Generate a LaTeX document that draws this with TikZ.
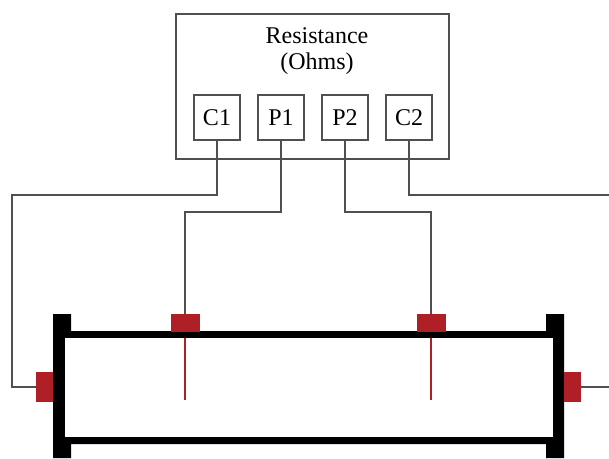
\documentclass[tikz,border=0pt]{standalone}
\usepackage{fontspec}
\setmainfont{Liberation Serif}
\definecolor{clampred}{HTML}{AE1F26}
\definecolor{wiregray}{HTML}{505050}
\tikzset{
  termbox/.style={draw=wiregray,line width=2pt,minimum width=46pt,minimum height=45pt,inner sep=0pt,font=\fontsize{24}{24}\selectfont},
  clamp/.style={fill=clampred,inner sep=0pt},
  wire/.style={draw=wiregray,line width=2pt},
  sensewire/.style={color=clampred,line width=1.5pt}
}
\begin{document}
\begin{tikzpicture}
  [x=1pt,y=-1pt]
  \useasboundingbox (0,0) rectangle (609,458);

  \node[draw=wiregray,line width=2pt,minimum width=273pt,minimum height=145pt,inner sep=0pt] (meter) at (312.5,86) {};
  \node[font=\fontsize{24}{24}\selectfont] (title) at (317,35.5) {Resistance};
  \node[font=\fontsize{24}{24}\selectfont] (unit) at (317,64) {(Ohms)};

  \node[termbox] (C1) at (217,117.5) {C1};
  \node[termbox] (P1) at (281,117.5) {P1};
  \node[termbox] (P2) at (345,117.5) {P2};
  \node[termbox] (C2) at (409,117.5) {C2};

  % pipe section
  \fill[black] (53,314) -- (71,314) -- (71,331) -- (546,331) -- (546,314) -- (564,314) -- (564,458) -- (546,458)
    -- (546,444) -- (71,444) -- (71,458) -- (53,458) -- cycle;
  \fill[white] (65,338) rectangle (553,437);

  % clamps
  \node[clamp,minimum width=17pt,minimum height=30pt] (clampL) at (44.5,387) {};
  \node[clamp,minimum width=17pt,minimum height=30pt] (clampR) at (572.5,387) {};
  \node[clamp,minimum width=29pt,minimum height=18pt] (clampA) at (185.5,323) {};
  \node[clamp,minimum width=29pt,minimum height=18pt] (clampB) at (431.5,323) {};

  \coordinate (cornerL) at (12,195);
  \coordinate (exitC) at (609,195);
  \coordinate (bendA) at (185,212);
  \coordinate (bendB) at (431,212);
  \coordinate (exitR) at (609,387);
  \coordinate (topA) at (185,338);
  \coordinate (topB) at (431,338);
  \coordinate (endA) at (185,400);
  \coordinate (endB) at (431,400);

  \draw[wire] (C1.south) |- (cornerL) |- (clampL.west);
  \draw[wire] (P1.south) |- (bendA) -- (clampA.north -| bendA);
  \draw[wire] (P2.south) |- (bendB) -- (clampB.north -| bendB);
  \draw[wire] (C2.south) |- (exitC);
  \draw[wire] (clampR.east) -- (exitR);

  \draw[sensewire] (topA) -- (endA);
  \draw[sensewire] (topB) -- (endB);
\end{tikzpicture}
\end{document}
